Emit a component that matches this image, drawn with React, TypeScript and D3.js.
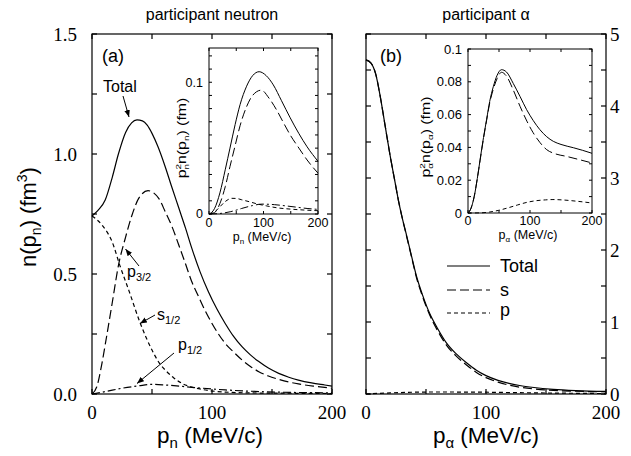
import React from 'react';
import * as d3 from 'd3';

type Pt = [number, number];

// ---------- Panel (a): participant neutron, n(p_n) (fm^3) ----------
const nTotal: Pt[] = [[0,0.742],[5,0.765],[11,0.808],[17,0.905],[22,1.0],[28,1.09],[33,1.13],[37.5,1.142],[42,1.138],[46,1.12],[50,1.086],[55,1.03],[61,0.947],[66,0.87],[72,0.78],[78,0.69],[83,0.61],[90,0.51],[97,0.426],[104,0.355],[111,0.294],[118,0.24],[125,0.197],[132,0.163],[139,0.135],[147,0.108],[155.6,0.086],[164,0.07],[172,0.058],[183,0.046],[194,0.0375],[200,0.033]];
const nP32: Pt[] = [[0,0],[4,0.03],[8.3,0.128],[11,0.205],[16.7,0.375],[22.2,0.54],[27.8,0.65],[33.3,0.745],[38.9,0.815],[46.7,0.847],[55.6,0.815],[61,0.76],[66.7,0.697],[72,0.625],[77.8,0.544],[83,0.47],[88.9,0.405],[94,0.35],[100,0.294],[111,0.211],[118,0.175],[125,0.142],[132,0.115],[139,0.093],[147,0.075],[155.6,0.061],[164,0.05],[172,0.042],[186,0.032],[200,0.024]];
const nS12: Pt[] = [[0,0.742],[8.3,0.704],[16.7,0.635],[23.6,0.53],[30.6,0.433],[40.3,0.294],[50,0.183],[56,0.13],[61,0.1],[68,0.068],[75,0.044],[83,0.029],[91.7,0.019],[111,0.008],[140,0.004],[170,0.003],[200,0.002]];
const nP12: Pt[] = [[0,0],[11,0.01],[25,0.024],[38.9,0.034],[50,0.04],[61,0.0375],[83,0.028],[111,0.017],[153,0.008],[200,0.005]];

// inset (a): p_n^2 n(p_n) (fm)
const inTotal: Pt[] = [[0,0],[10,0.004],[20,0.016],[30,0.034],[38.5,0.05],[48,0.068],[57,0.083],[69,0.097],[80,0.105],[92,0.108],[105,0.105],[118,0.098],[133,0.086],[149,0.073],[165,0.061],[180,0.051],[200,0.04]];
const inP32: Pt[] = [[0,0],[10,0.001],[20,0.008],[30,0.021],[38.5,0.036],[48,0.052],[57,0.067],[69,0.0815],[80,0.09],[96,0.094],[110,0.088],[124,0.079],[137,0.069],[149,0.06],[165,0.05],[180,0.041],[200,0.031]];
const inS12: Pt[] = [[0,0],[10,0.0015],[20,0.0055],[30,0.0095],[42,0.0119],[50,0.0118],[60,0.0108],[75,0.0092],[90,0.0075],[105,0.0062],[125,0.0047],[150,0.0037],[175,0.003],[200,0.0025]];
const inP12: Pt[] = [[0,0],[20,0.0004],[40,0.0018],[60,0.0042],[80,0.0064],[97,0.0075],[120,0.0071],[140,0.0062],[160,0.0052],[180,0.0042],[200,0.0035]];

// ---------- Panel (b): participant alpha, n(p_alpha) ----------
const aTotal: Pt[] = [[0,4.64],[4,4.6],[8,4.45],[12,4.12],[16,3.72],[20,3.32],[24,2.96],[27,2.69],[30,2.46],[34,2.19],[38,1.91],[42,1.64],[47,1.38],[53,1.12],[60,0.9],[67,0.71],[75,0.56],[84,0.43],[92,0.33],[100,0.255],[110,0.19],[120,0.145],[128,0.118],[140,0.09],[156,0.065],[175,0.048],[200,0.036]];
const aS: Pt[] = [[0,4.64],[4,4.6],[8,4.45],[12,4.12],[16,3.72],[20,3.32],[24,2.96],[27,2.69],[30,2.46],[34,2.18],[38,1.9],[42,1.62],[47,1.36],[53,1.1],[60,0.87],[67,0.68],[75,0.53],[84,0.4],[92,0.3],[100,0.228],[110,0.165],[120,0.12],[128,0.095],[140,0.07],[156,0.05],[175,0.038],[200,0.03]];
const aP: Pt[] = [[0,0],[20,0.015],[40,0.025],[60,0.028],[80,0.027],[100,0.025],[120,0.02],[140,0.016],[160,0.012],[180,0.009],[200,0.006]];

// inset (b): p_alpha^2 n(p_alpha) (fm)
const ibTotal: Pt[] = [[0,0],[5,0.003],[10,0.01],[15,0.021],[19.5,0.0325],[25,0.046],[30,0.057],[35,0.068],[40.8,0.077],[47,0.084],[54,0.0874],[62,0.086],[73,0.079],[84,0.071],[94.6,0.063],[105,0.0565],[116,0.0508],[127,0.0465],[137.6,0.0437],[150,0.0418],[170,0.0398],[185,0.0382],[200,0.0364]];
const ibS: Pt[] = [[0,0],[5,0.003],[10,0.01],[15,0.021],[19.5,0.032],[25,0.0455],[30,0.0565],[35,0.067],[40.8,0.0755],[47,0.082],[54,0.0858],[62,0.0835],[73,0.075],[84,0.065],[95,0.056],[105,0.049],[116,0.043],[127,0.0386],[140,0.0362],[159,0.0345],[180,0.0325],[200,0.0305]];
const ibP: Pt[] = [[0,0],[20,0.0001],[35,0.0006],[49,0.0016],[65,0.0032],[80,0.0049],[95,0.0065],[110,0.0075],[125,0.008],[137,0.0082],[155,0.0079],[175,0.0072],[200,0.0061]];

// tick values
const mainXTicks = [0, 50, 100, 150, 200];
const mainXLabels = [0, 100, 200];
const aYTicks = [0, 0.25, 0.5, 0.75, 1.0, 1.25, 1.5];
const aYLabels = [0, 0.5, 1.0, 1.5];
const bYTicks = [0, 0.5, 1, 1.5, 2, 2.5, 3, 3.5, 4, 4.5, 5];
const bYLabels = [0, 1, 2, 3, 4, 5];
const insetXTicks = [0, 50, 100, 150, 200];
const insetXLabels = [0, 100, 200];
const iaYTicks = d3.range(0, 0.125, 0.01);
const iaYLabels = [0, 0.1];
const ibYTicks = d3.range(0, 0.1001, 0.01);
const ibYLabels = [0, 0.02, 0.04, 0.06, 0.08, 0.1];

const LONG = '9,4';
const SHORT = '4,3';
const DASHDOT = '8,3,2,3';

const SANS = "'Liberation Sans', Arial, Helvetica, sans-serif";
const SERIF = "'Liberation Serif', 'Times New Roman', serif";

type Scale = d3.ScaleLinear<number, number>;

function Frame({ x, y, xt, yt, len, sw }: { x: Scale; y: Scale; xt: number[]; yt: number[]; len: number; sw: number }) {
  const [x0, x1] = x.range();
  const [y0, y1] = y.range();
  return (
    <g stroke="#000" strokeWidth={sw} fill="none">
      <rect x={x0} y={y1} width={x1 - x0} height={y0 - y1} />
      {xt.map((v, i) => (
        <g key={'x' + i}>
          <line x1={x(v)} x2={x(v)} y1={y0} y2={y0 - len} />
          <line x1={x(v)} x2={x(v)} y1={y1} y2={y1 + len} />
        </g>
      ))}
      {yt.map((v, i) => (
        <g key={'y' + i}>
          <line x1={x0} x2={x0 + len} y1={y(v)} y2={y(v)} />
          <line x1={x1} x2={x1 - len} y1={y(v)} y2={y(v)} />
        </g>
      ))}
    </g>
  );
}

function Curve({ data, x, y, dash, sw }: { data: Pt[]; x: Scale; y: Scale; dash?: string; sw: number }) {
  const gen = d3.line<Pt>().x(d => x(d[0])).y(d => y(d[1])).curve(d3.curveMonotoneX);
  return <path d={gen(data) || ''} fill="none" stroke="#000" strokeWidth={sw} strokeDasharray={dash} />;
}

export default function App() {
  const xA = d3.scaleLinear().domain([0, 200]).range([92, 332]);
  const yA = d3.scaleLinear().domain([0, 1.5]).range([394, 34]);
  const xB = d3.scaleLinear().domain([0, 200]).range([366, 606]);
  const yB = d3.scaleLinear().domain([0, 5]).range([394, 34]);
  const xIA = d3.scaleLinear().domain([0, 200]).range([209, 318]);
  const yIA = d3.scaleLinear().domain([0, 0.126]).range([214, 48]);
  const xIB = d3.scaleLinear().domain([0, 200]).range([468, 592]);
  const yIB = d3.scaleLinear().domain([0, 0.1]).range([213, 49]);

  const fmt1 = d3.format('.1f');
  const fmtI = (v: number) => (v === 0 ? '0' : d3.format('~g')(+v.toFixed(3)));

  const arrows: [number, number, number, number][] = [
    [123, 96, 129, 117],
    [139, 266, 125.5, 249],
    [155, 315, 140, 323.5],
    [174, 353, 137, 383.5],
  ];

  return (
    <div style={{ position: 'absolute', left: 0, top: 0 }}>
      <svg width={631} height={456} viewBox="0 0 631 456" style={{ display: 'block', background: '#fff' }}>
        <defs>
          <marker id="ah" viewBox="0 0 10 10" refX="10" refY="5" markerWidth="7" markerHeight="7" orient="auto" markerUnits="userSpaceOnUse">
            <path d="M0,1 L10,5 L0,9 z" fill="#000" />
          </marker>
        </defs>
        <rect x={0} y={0} width={631} height={456} fill="#fff" />

        {/* titles */}
        <text x={212} y={20} textAnchor="middle" fontFamily={SANS} fontSize={16}>participant neutron</text>
        <text x={486} y={20} textAnchor="middle" fontFamily={SANS} fontSize={16}>participant α</text>

        {/* ===== panel a ===== */}
        <Frame x={xA} y={yA} xt={mainXTicks} yt={aYTicks} len={5} sw={1.2} />
        <Curve data={nTotal} x={xA} y={yA} sw={1.2} />
        <Curve data={nP32} x={xA} y={yA} dash={LONG} sw={1.2} />
        <Curve data={nS12} x={xA} y={yA} dash={SHORT} sw={1.2} />
        <Curve data={nP12} x={xA} y={yA} dash={DASHDOT} sw={1.2} />
        {aYLabels.map((v, i) => (
          <text key={i} x={77} y={yA(v)} dy="0.35em" textAnchor="end" fontFamily={SERIF} fontSize={19}>{fmt1(v)}</text>
        ))}
        {mainXLabels.map((v, i) => (
          <text key={i} x={xA(v)} y={419} textAnchor="middle" fontFamily={SERIF} fontSize={19}>{v}</text>
        ))}
        <text x={102} y={62} fontFamily={SANS} fontSize={18}>(a)</text>
        <text x={103} y={92} fontFamily={SANS} fontSize={16}>Total</text>
        <text fontFamily={SANS} fontSize={16} x={127} y={277}>p<tspan fontSize={11} dy={4}>3/2</tspan></text>
        <text fontFamily={SANS} fontSize={16} x={157} y={320}>s<tspan fontSize={11} dy={4}>1/2</tspan></text>
        <text fontFamily={SANS} fontSize={16} x={178} y={350}>p<tspan fontSize={11} dy={4}>1/2</tspan></text>
        {arrows.map(([x1, y1, x2, y2], i) => (
          <line key={i} x1={x1} y1={y1} x2={x2} y2={y2} stroke="#000" strokeWidth={1} markerEnd="url(#ah)" />
        ))}
        <text transform="translate(36,217) rotate(-90)" textAnchor="middle" fontFamily={SANS} fontSize={22}>
          n(p<tspan fontSize={14} dy={5}>n</tspan><tspan dy={-5}>) (fm</tspan><tspan fontSize={14} dy={-9}>3</tspan><tspan dy={9}>)</tspan>
        </text>
        <text x={210} y={443} textAnchor="middle" fontFamily={SANS} fontSize={22.5}>
          p<tspan fontSize={15} dy={5}>n</tspan><tspan dy={-5}> (MeV/c)</tspan>
        </text>

        {/* inset a */}
        <rect x={209} y={48} width={109} height={166} fill="#fff" />
        <Frame x={xIA} y={yIA} xt={insetXTicks} yt={iaYTicks} len={3} sw={1} />
        <Curve data={inTotal} x={xIA} y={yIA} sw={1} />
        <Curve data={inP32} x={xIA} y={yIA} dash={LONG} sw={1} />
        <Curve data={inS12} x={xIA} y={yIA} dash={SHORT} sw={1} />
        <Curve data={inP12} x={xIA} y={yIA} dash={DASHDOT} sw={1} />
        {iaYLabels.map((v, i) => (
          <text key={i} x={203} y={yIA(v)} dy="0.35em" textAnchor="end" fontFamily={SANS} fontSize={12.5}>{fmtI(v)}</text>
        ))}
        {insetXLabels.map((v, i) => (
          <text key={i} x={xIA(v)} y={227} textAnchor="middle" fontFamily={SANS} fontSize={12.5}>{v}</text>
        ))}
        <text x={262} y={241} textAnchor="middle" fontFamily={SANS} fontSize={12.5}>
          p<tspan fontSize={8} dy={3}>n</tspan><tspan dy={-3}> (MeV/c)</tspan>
        </text>
        <text transform="translate(186,138) rotate(-90) scale(1.32,1)" textAnchor="middle" fontFamily={SANS} fontSize={12}>
          p<tspan fontSize={7.5} dy={-5}>2</tspan><tspan fontSize={7.5} dx={-4.2} dy={8}>n</tspan><tspan dy={-3}>n(p</tspan><tspan fontSize={7.5} dy={3}>n</tspan><tspan dy={-3}>) (fm)</tspan>
        </text>

        {/* ===== panel b ===== */}
        <Frame x={xB} y={yB} xt={mainXTicks} yt={bYTicks} len={5} sw={1.2} />
        <Curve data={aTotal} x={xB} y={yB} sw={1.2} />
        <Curve data={aS} x={xB} y={yB} dash={LONG} sw={1.2} />
        <Curve data={aP} x={xB} y={yB} dash={SHORT} sw={1.2} />
        {bYLabels.map((v, i) => (
          <text key={i} x={610} y={yB(v)} dy="0.35em" textAnchor="start" fontFamily={SERIF} fontSize={19}>{v}</text>
        ))}
        {mainXLabels.map((v, i) => (
          <text key={i} x={xB(v)} y={419} textAnchor="middle" fontFamily={SERIF} fontSize={19}>{v}</text>
        ))}
        <text x={380} y={62} fontFamily={SANS} fontSize={18}>(b)</text>
        <text x={486} y={443} textAnchor="middle" fontFamily={SANS} fontSize={22.5}>
          p<tspan fontSize={15} dy={5}>α</tspan><tspan dy={-5}> (MeV/c)</tspan>
        </text>

        {/* legend */}
        <g fontFamily={SANS} fontSize={18}>
          <line x1={447} x2={490} y1={266} y2={266} stroke="#000" strokeWidth={1.2} />
          <text x={500} y={272}>Total</text>
          <line x1={447} x2={490} y1={290} y2={290} stroke="#000" strokeWidth={1.2} strokeDasharray={LONG} />
          <text x={500} y={296}>s</text>
          <line x1={447} x2={490} y1={313} y2={313} stroke="#000" strokeWidth={1.2} strokeDasharray={SHORT} />
          <text x={500} y={316}>p</text>
        </g>

        {/* inset b */}
        <rect x={468} y={49} width={124} height={164} fill="#fff" />
        <Frame x={xIB} y={yIB} xt={insetXTicks} yt={ibYTicks} len={3} sw={1} />
        <Curve data={ibTotal} x={xIB} y={yIB} sw={1} />
        <Curve data={ibS} x={xIB} y={yIB} dash={LONG} sw={1} />
        <Curve data={ibP} x={xIB} y={yIB} dash={SHORT} sw={1} />
        {ibYLabels.map((v, i) => (
          <text key={i} x={462} y={yIB(v)} dy="0.35em" textAnchor="end" fontFamily={SANS} fontSize={13}>{fmtI(v)}</text>
        ))}
        {insetXLabels.map((v, i) => (
          <text key={i} x={xIB(v)} y={225} textAnchor="middle" fontFamily={SANS} fontSize={12.5}>{v}</text>
        ))}
        <text x={528} y={239} textAnchor="middle" fontFamily={SANS} fontSize={12.5}>
          p<tspan fontSize={8} dy={3}>α</tspan><tspan dy={-3}> (MeV/c)</tspan>
        </text>
        <text transform="translate(430,137) rotate(-90) scale(1.32,1)" textAnchor="middle" fontFamily={SANS} fontSize={12}>
          p<tspan fontSize={7.5} dy={-5}>2</tspan><tspan fontSize={7.5} dx={-4.2} dy={8}>α</tspan><tspan dy={-3}>n(p</tspan><tspan fontSize={7.5} dy={3}>α</tspan><tspan dy={-3}>) (fm)</tspan>
        </text>
      </svg>
    </div>
  );
}
